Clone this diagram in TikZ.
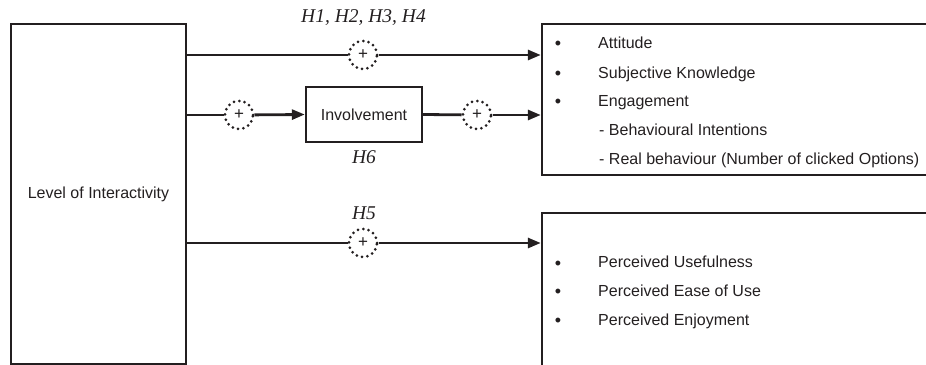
\documentclass[tikz,border=0pt]{standalone}
\usepackage{fontspec}
\setmainfont{Liberation Sans}
\newfontfamily\hfont{Liberation Serif}
\usetikzlibrary{arrows.meta}
\definecolor{ink}{HTML}{231F20}
\begin{document}
\begin{tikzpicture}[x=1pt,y=-1pt,
  every node/.style={text=ink},
  boxed/.style={draw=ink,line width=2.4pt,rectangle,inner sep=0pt},
  plus/.style={draw=ink,circle,minimum size=28pt,inner sep=0pt,line width=3pt,
    dash pattern=on 0pt off 5.4pt,line cap=round,font=\fontsize{17}{17}\selectfont},
  conn/.style={draw=ink,line width=2.8pt},
  arr/.style={conn,-{Triangle[length=13pt,width=10pt]}},
  hyp/.style={font=\hfont\itshape\fontsize{19.5}{20}\selectfont,inner sep=0pt},
  item/.style={anchor=west,inner sep=0pt,text height=11.5pt,text depth=0pt,font=\fontsize{16}{18}\selectfont},
  blt/.style={anchor=center,inner sep=0pt,text height=11.5pt,text depth=0pt,font=\fontsize{18}{18}\selectfont}
]
\useasboundingbox (0,0) rectangle (926,364);
\clip (0,0) rectangle (926,364);
% boxes
\node[boxed,minimum width=175pt,minimum height=340.5pt,font=\fontsize{16}{18}\selectfont] (lb) at (98.5,194.25) {Level of Interactivity};
\node[boxed,minimum width=398pt,minimum height=151pt] (top) at (741,99.5) {};
\node[boxed,minimum width=398pt,minimum height=167pt] (bot) at (741,296.5) {};
\node[boxed,minimum width=116pt,minimum height=55pt,font=\fontsize{16}{18}\selectfont] (inv) at (364,114.5) {Involvement};
% circles
\node[plus] (c1) at (363,55) {+};
\node[plus] (c2) at (239,115) {+};
\node[plus] (c3) at (477,115) {+};
\node[plus] (c4) at (363,243) {+};
% hypothesis labels
\node[hyp] (h1) at (363.5,18) {H1, H2, H3, H4};
\node[hyp] (h6) at (364,157) {H6};
\node[hyp] (h5) at (364,213) {H5};
% connectors
\draw[conn] (c1 -| lb.east) -- (c1);
\draw[arr] (c1) -- (c1 -| top.west);
\draw[conn] (c2 -| lb.east) -- (c2);
\draw[arr] (c2) -- (inv.west);
\draw[conn] (inv.east) -- (c3);
\draw[arr] (c3) -- (c3 -| top.west);
\draw[conn] (c4 -| lb.east) -- (c4);
\draw[arr] (c4) -- (c4 -| bot.west);
% top box items
\node[blt] (b1) at (558,44) {•};
\node[blt] (b2) at (558,74) {•};
\node[blt] (b3) at (558,102) {•};
\node[item] (t1) at (598,43) {Attitude};
\node[item] (t2) at (598,73) {Subjective Knowledge};
\node[item] (t3) at (598,101) {Engagement};
\node[item] (t4) at (599,130) {- Behavioural Intentions};
\node[item] (t5) at (599,159) {- Real behaviour (Number of clicked Options)};
% bottom box items
\node[blt] (b4) at (558,263.5) {•};
\node[blt] (b5) at (558,292) {•};
\node[blt] (b6) at (558,321) {•};
\node[item] (u1) at (598,262) {Perceived Usefulness};
\node[item] (u2) at (598,291) {Perceived Ease of Use};
\node[item] (u3) at (598,320) {Perceived Enjoyment};
\end{tikzpicture}
\end{document}
